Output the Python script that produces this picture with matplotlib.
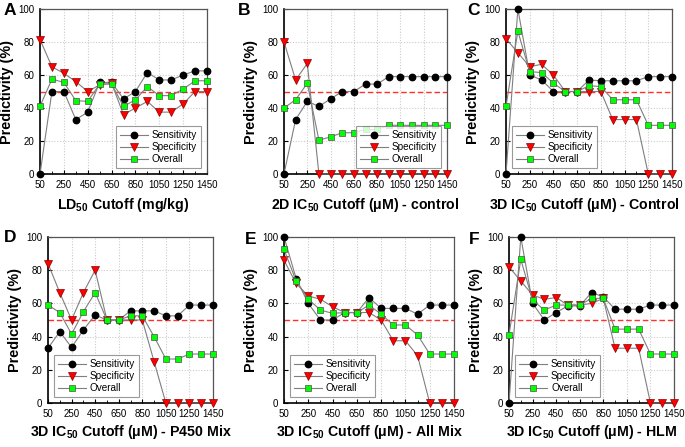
import matplotlib
matplotlib.use("Agg")
import matplotlib.pyplot as plt
import numpy as np

plt.rcParams['font.family'] = ['Liberation Sans', 'DejaVu Sans']
plt.rcParams['mathtext.fontset'] = 'custom'
plt.rcParams['mathtext.rm'] = 'Liberation Sans'
plt.rcParams['mathtext.bf'] = 'Liberation Sans:bold'

cutoffs = [50, 150, 250, 350, 450, 550, 650, 750, 850, 950, 1050, 1150, 1250, 1350, 1450]
xticks = [50, 250, 450, 650, 850, 1050, 1250, 1450]

sens_A = [0, 50, 50, 33, 37.5, 55.5, 55.5, 45.5, 50, 61.5, 57, 57, 60, 62.5, 62.5]
spec_A = [81.5, 65, 61, 56, 50, 54, 55, 36, 40, 44, 37.5, 37.5, 42.5, 50, 50]
over_A = [41, 57.5, 55.5, 44.5, 44, 54.5, 54.5, 41, 45, 53, 47.5, 47.5, 51.5, 56.5, 56.5]

sens_B = [0, 33, 44, 41, 45.5, 50, 50, 54.5, 54.5, 59, 59, 59, 59, 59, 59]
spec_B = [80, 57, 67, 0, 0, 0, 0, 0, 0, 0, 0, 0, 0, 0, 0]
over_B = [40, 45, 55, 20.5, 22.5, 25, 25, 27, 27, 29.5, 29.5, 29.5, 29.5, 29.5, 29.5]

sens_C = [0, 100, 60, 57, 50, 50, 50, 57, 56.5, 56.5, 56.5, 56.5, 59, 59, 59]
spec_C = [82, 73.5, 65, 66.5, 60, 50, 50, 50, 50, 33, 33, 33, 0, 0, 0]
over_C = [41, 86.5, 62, 61.5, 55, 50, 50, 53.5, 53, 45, 45, 45, 29.5, 29.5, 29.5]

sens_D = [33, 43, 33.5, 44, 53, 50, 50, 55.5, 55.5, 55.5, 52.5, 52.5, 59, 59, 59]
spec_D = [84, 66.5, 50, 66.5, 80, 50, 50, 50, 50, 25, 0, 0, 0, 0, 0]
over_D = [59, 54.5, 41.5, 55, 66.5, 50, 50, 52.5, 52.5, 40, 26.5, 26.5, 29.5, 29.5, 29.5]

sens_E = [100, 75, 60, 50, 50, 54.5, 54.5, 63.5, 57, 57, 57, 53.5, 59, 59, 59]
spec_E = [86, 72, 64.5, 62.5, 58, 54.5, 54.5, 54.5, 50, 37.5, 37.5, 28.5, 0, 0, 0]
over_E = [92.5, 73.5, 62.5, 56, 54, 54.5, 54.5, 59, 53.5, 47, 47, 41, 29.5, 29.5, 29.5]

sens_F = [0, 100, 60, 50, 54.5, 58.5, 58.5, 66.5, 64, 56.5, 56.5, 56.5, 59, 59, 59]
spec_F = [82, 73.5, 65, 62.5, 63.5, 59, 59, 60, 63, 33, 33, 33, 0, 0, 0]
over_F = [41, 86.5, 62, 56, 59, 59, 59, 63, 63, 44.5, 44.5, 44.5, 29.5, 29.5, 29.5]

panel_letters = ['A', 'B', 'C', 'D', 'E', 'F']
xlabels = [r'LD$_{\mathbf{50}}$ Cutoff (mg/kg)',
           r'2D IC$_{\mathbf{50}}$ Cutoff (μM) - control',
           r'3D IC$_{\mathbf{50}}$ Cutoff (μM) - Control',
           r'3D IC$_{\mathbf{50}}$ Cutoff (μM) - P450 Mix',
           r'3D IC$_{\mathbf{50}}$ Cutoff (μM) - All Mix',
           r'3D IC$_{\mathbf{50}}$ Cutoff (μM) - HLM']
series = [(sens_A, spec_A, over_A), (sens_B, spec_B, over_B), (sens_C, spec_C, over_C),
          (sens_D, spec_D, over_D), (sens_E, spec_E, over_E), (sens_F, spec_F, over_F)]

W, H = 685, 447
fig = plt.figure(figsize=(W / 100, H / 100), dpi=100)

# axes boxes in pixels: left, right, top, bottom
boxes = [(40, 207, 9, 174), (284, 447, 9, 174), (506, 672, 9, 174),
         (48, 213, 237, 403), (284, 454, 237, 403), (509, 674, 237, 403)]
letter_pos = [(4, 3), (238, 3), (467, 3), (4, 230), (245, 232), (469, 232)]
legend_loc = ['lower right', 'lower right', 'lower left', 'lower left', 'lower left', 'lower left']
xlabel_x = [0.5, 0.5, 0.47, 0.5, 0.5, 0.5]
xlabel_y = [-0.135, -0.135, -0.135, -0.12, -0.12, -0.12]

for i in range(6):
    l, r, t, b = boxes[i]
    ax = fig.add_axes([l / W, 1 - b / H, (r - l) / W, (b - t) / H])
    s, p, o = series[i]
    ax.axhline(50, color='#ff3030', ls=(0, (4, 2)), lw=1.0, zorder=1)
    ax.plot(cutoffs, s, color='#7f7f7f', lw=0.8, marker='o', ms=4.6,
            mfc='black', mec='black', label='Sensitivity', zorder=3, clip_on=False)
    ax.plot(cutoffs, p, color='#7f7f7f', lw=0.8, marker='v', ms=5.2,
            mfc='#ff0000', mec='#8b0000', mew=0.5, label='Specificity', zorder=3, clip_on=False)
    ax.plot(cutoffs, o, color='#7f7f7f', lw=0.8, marker='s', ms=4.6,
            mfc='#00ff00', mec='#505050', mew=0.5, label='Overall', zorder=3, clip_on=False)
    ax.set_xlim(50, 1450)
    ax.set_ylim(0, 100)
    ax.set_xticks(xticks)
    ax.set_xticks(cutoffs, minor=True)
    ax.set_yticks([0, 20, 40, 60, 80, 100])
    ax.tick_params(axis='both', which='major', labelsize=7, direction='in', length=3, width=0.8, pad=4)
    ax.tick_params(axis='x', which='minor', direction='in', length=2, width=0.6)
    ax.grid(True, which='major', color='#cccccc', ls=(0, (1, 1.5)), lw=0.8)
    ax.set_axisbelow(True)
    for side in ['left', 'bottom']:
        ax.spines[side].set_color('black')
        ax.spines[side].set_linewidth(1.2)
    for side in ['top', 'right']:
        ax.spines[side].set_color('#555555')
        ax.spines[side].set_linewidth(0.9)
    ax.set_ylabel('Predictivity (%)', fontsize=10.4, fontweight='bold', labelpad=3)
    ax.set_xlabel(xlabels[i], fontsize=10.2, fontweight='bold')
    ax.xaxis.set_label_coords(xlabel_x[i], xlabel_y[i])
    leg = ax.legend(loc=legend_loc[i], fontsize=7.2, frameon=True, fancybox=False,
                    edgecolor='#808080', handlelength=2.8, borderpad=0.4, labelspacing=0.2,
                    handletextpad=0.4, borderaxespad=0.6)
    leg.get_frame().set_linewidth(0.8)
    fig.text(letter_pos[i][0] / W, 1 - letter_pos[i][1] / H, panel_letters[i],
             fontsize=12.5, fontweight='bold', ha='left', va='top')

fig.savefig('out.png', dpi=100)
